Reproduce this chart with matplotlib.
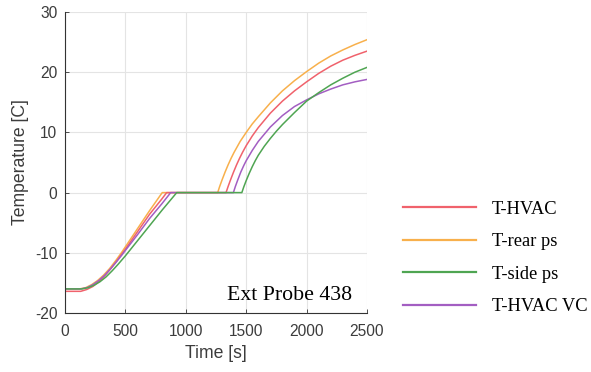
import matplotlib.pyplot as plt
from matplotlib.lines import Line2D

plt.rcParams['axes.unicode_minus'] = False

# time [s] / temperature [C]
t_hvac = [0, 130, 180, 230, 280, 330, 380, 430, 470, 500, 600, 700, 800, 842, 1000, 1200, 1333,
          1350, 1370, 1395, 1420, 1445, 1470, 1500, 1550, 1600, 1700, 1800, 1900, 2000, 2100, 2200,
          2300, 2400, 2500]
T_hvac = [-16.4, -16.4, -16.1, -15.6, -14.8, -13.8, -12.6, -11.3, -10.2, -9.4, -6.5, -3.6, -1.1, 0, 0, 0, 0,
          1.0, 2.1, 3.4, 4.6, 5.7, 6.7, 7.8, 9.4, 10.8, 13.2, 15.2, 16.9, 18.4, 19.8, 21.0,
          22.0, 22.8, 23.5]

t_rear = [0, 120, 170, 220, 270, 320, 370, 420, 470, 500, 600, 700, 805, 1000, 1264,
          1280, 1300, 1325, 1350, 1375, 1400, 1450, 1500, 1550, 1600, 1700, 1800, 1900, 2000, 2100,
          2200, 2300, 2400, 2500]
T_rear = [-16.0, -16.0, -15.8, -15.3, -14.6, -13.7, -12.6, -11.3, -9.9, -9.0, -6.0, -3.0, 0, 0, 0,
          1.0, 2.1, 3.4, 4.6, 5.7, 6.7, 8.5, 10.0, 11.4, 12.6, 14.9, 16.9, 18.6, 20.1, 21.5,
          22.7, 23.7, 24.6, 25.4]

t_side = [0, 140, 190, 240, 290, 340, 390, 440, 500, 600, 700, 800, 900, 925, 1200, 1464,
          1480, 1500, 1525, 1550, 1575, 1600, 1650, 1700, 1750, 1800, 1900, 2000, 2100, 2200, 2300,
          2400, 2500]
T_side = [-16.0, -16.0, -15.8, -15.4, -14.8, -14.0, -13.0, -11.9, -10.5, -8.0, -5.5, -3.0, -0.6, 0, 0, 0,
          0.95, 2.0, 3.2, 4.3, 5.3, 6.2, 7.7, 9.0, 10.2, 11.3, 13.3, 15.2, 16.6, 17.9, 19.0,
          20.0, 20.8]

t_vc = [0, 130, 180, 230, 280, 330, 380, 430, 470, 500, 600, 700, 800, 875, 1000, 1200, 1394,
        1410, 1430, 1455, 1480, 1500, 1550, 1600, 1700, 1800, 1900, 2000, 2100, 2200, 2300, 2400, 2500]
T_vc = [-16.0, -16.0, -15.8, -15.3, -14.6, -13.7, -12.6, -11.4, -10.4, -9.6, -7.0, -4.3, -1.9, 0, 0, 0, 0,
        1.0, 2.1, 3.4, 4.5, 5.3, 7.0, 8.5, 10.9, 12.8, 14.3, 15.4, 16.4, 17.2, 17.9, 18.4, 18.8]

labels = ['T-HVAC', 'T-rear ps', 'T-side ps', 'T-HVAC VC']
colors = ['#f0626c', '#f8b04c', '#4fa552', '#a35ec2']
series = [(t_hvac, T_hvac), (t_rear, T_rear), (t_side, T_side), (t_vc, T_vc)]

fig = plt.figure(figsize=(5.91, 3.72), dpi=100)
ax = fig.add_axes([65/591, 1-313/372, 302/591, 301/372])

# draw order so green/purple sit on top like the original
for i in [1, 0, 3, 2]:
    ax.plot(series[i][0], series[i][1], color=colors[i], lw=1.1)

ax.set_xlim(0, 2500)
ax.set_ylim(-20, 30)
ax.set_xticks([0, 500, 1000, 1500, 2000, 2500])
ax.set_yticks([-20, -10, 0, 10, 20, 30])
ax.grid(True, color='#e4e4e4', lw=0.8)
ax.set_axisbelow(True)
for s in ['top', 'right']:
    ax.spines[s].set_visible(False)
for s in ['left', 'bottom']:
    ax.spines[s].set_color('#333333')
    ax.spines[s].set_linewidth(0.8)
ax.tick_params(direction='in', length=3, width=0.6, colors='#333333', labelsize=11.2, labelcolor='#3c3c3c')
ax.tick_params(axis='x', pad=8)
ax.tick_params(axis='y', pad=5.5)
for lab in ax.get_xticklabels() + ax.get_yticklabels():
    lab.set_family('Liberation Sans')
ax.set_xlabel('Time [s]', fontsize=12.7, color='#3c3c3c', labelpad=4, family='Liberation Sans')
ax.set_ylabel('Temperature [C]', fontsize=12.7, color='#3c3c3c', labelpad=4, family='Liberation Sans')

ax.text(0.95, 0.043, 'Ext Probe 438', transform=ax.transAxes, ha='right', va='baseline',
        fontsize=15.7, family='Liberation Serif', color='black')

handles = [Line2D([0], [0], color=c, lw=1.6) for c in colors]
fig.legend(handles, labels, loc='center left', bbox_to_anchor=(403/591, 1-258/372),
           frameon=False, borderpad=0, borderaxespad=0, handlelength=3.95, handletextpad=0.87,
           labelspacing=0.84, prop={'family': 'Liberation Serif', 'size': 13.3})

fig.savefig('out.png', dpi=100)
